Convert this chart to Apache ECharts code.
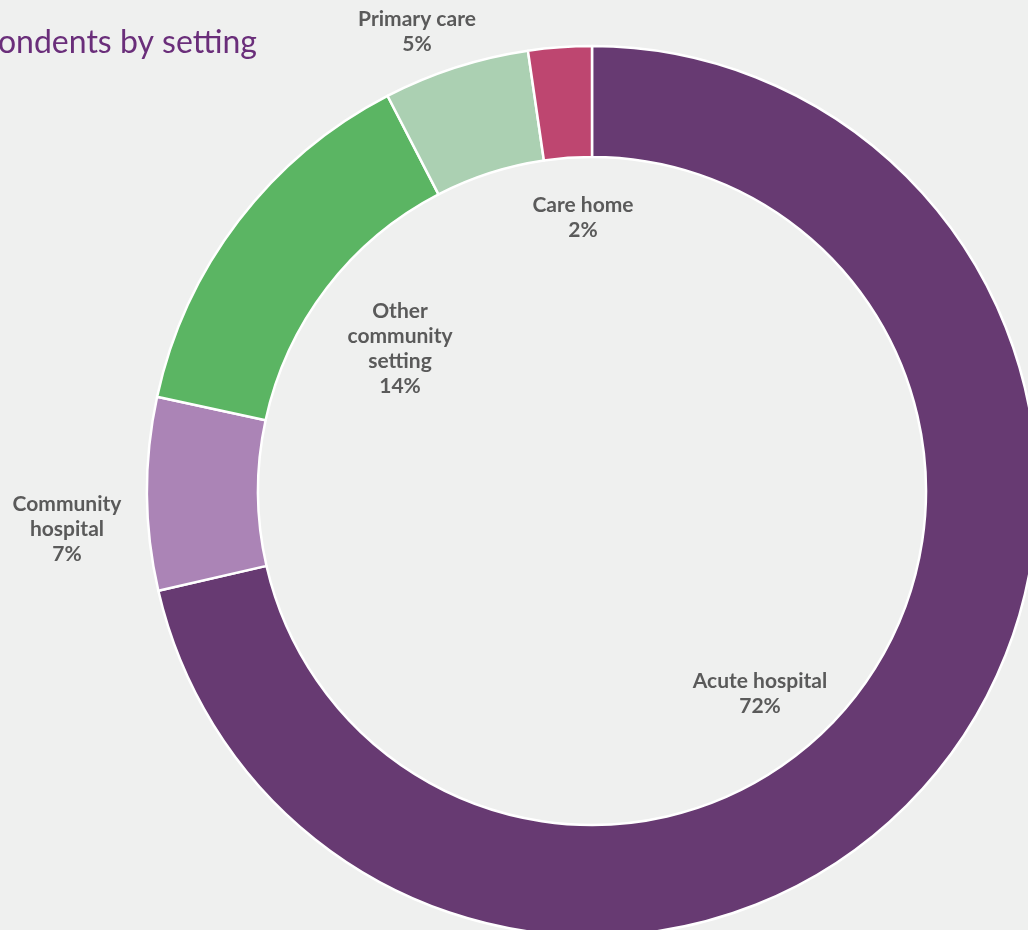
<!DOCTYPE html>
<html>
<head>
<meta charset="utf-8">
<style>
  html, body { margin: 0; padding: 0; background: #eff0ef; }
  #chart { width: 1028px; height: 930px; }
</style>
<script src="https://cdn.jsdelivr.net/npm/echarts@6/dist/echarts.min.js"></script>
</head>
<body>
<div id="chart"></div>
<script>
// Data
const titleText = 'Respondents by setting';
const categories = ['Acute hospital', 'Community\nhospital', 'Other\ncommunity\nsetting', 'Primary care', 'Care home'];
// arc sizes measured from the ring geometry
const values = [71.4, 7.0, 14.0, 5.3, 2.3];
// printed percentages
const shareLabels = ['72%', '7%', '14%', '5%', '2%'];
const colors = ['#673a72', '#ab84b6', '#5bb563', '#abd0b2', '#be4670'];

// label anchor positions (layout, not data)
const labelAnchors = [[760, 694], [67, 529], [400, 349], [417, 32], [583, 218]];

const chart = echarts.init(document.getElementById('chart'), null, { renderer: 'canvas' });

const seriesData = categories.map((c, i) => ({
  name: c,
  value: values[i],
  itemStyle: { color: colors[i] }
}));

chart.setOption({
  backgroundColor: '#eff0ef',
  animation: false,
  graphic: [{
    type: 'text',
    right: 771,
    top: 27,
    style: {
      text: titleText,
      fill: '#6a2e7a',
      font: '400 32px Lato, "Open Sans", sans-serif',
      textAlign: 'right'
    }
  }],
  series: [{
    type: 'pie',
    center: [592, 491],
    radius: [334, 445],
    startAngle: 90,
    clockwise: true,
    avoidLabelOverlap: false,
    silent: true,
    itemStyle: { borderColor: '#ffffff', borderWidth: 2.5 },
    label: {
      show: true,
      position: 'outside',
      formatter: p => p.name + '\n' + shareLabels[p.dataIndex],
      color: '#5a5a5a',
      fontFamily: 'Lato, "Open Sans", sans-serif',
      fontWeight: 'bold',
      fontSize: 21,
      lineHeight: 25,
      align: 'center'
    },
    labelLine: { show: false },
    labelLayout: p => ({
      x: labelAnchors[p.dataIndex][0],
      y: labelAnchors[p.dataIndex][1],
      align: 'center',
      verticalAlign: 'middle'
    }),
    data: seriesData
  }]
});
</script>
</body>
</html>
